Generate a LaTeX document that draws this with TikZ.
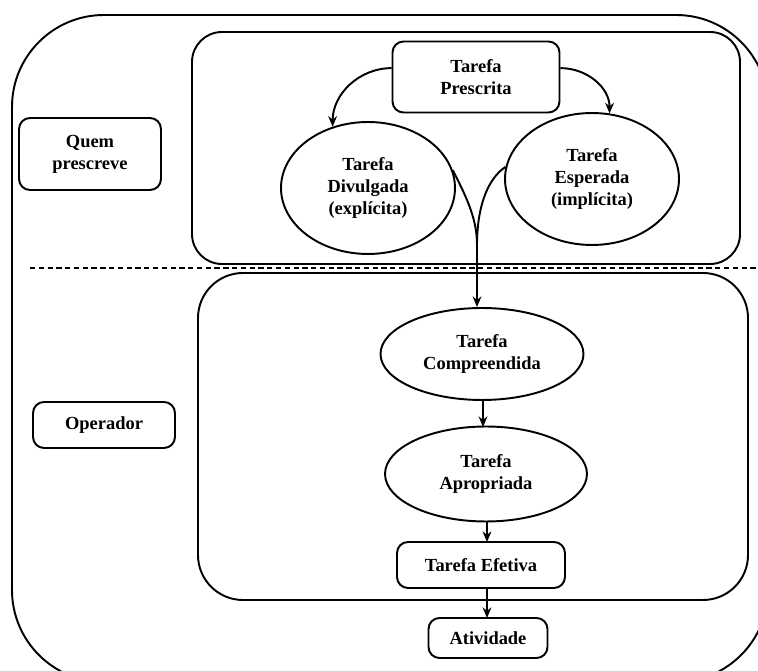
\documentclass[tikz,border=0pt]{standalone}
\usepackage{fontspec}
\setmainfont{Liberation Serif}
\usetikzlibrary{shapes.geometric,arrows.meta}
\begin{document}
\begin{tikzpicture}[x=0.02cm,y=-0.02cm,
  every node/.style={font=\fontsize{10.5}{12.5}\selectfont\bfseries, align=center, inner sep=1pt},
  frame/.style={draw, line width=1.1pt},
  roundbox/.style={frame, rectangle, rounded corners=0.22cm},
  oval/.style={frame, ellipse, inner sep=0pt},
  flow/.style={line width=1.1pt, -{Stealth[length=6pt,width=5pt]}},
  plain/.style={line width=1.1pt}]
\useasboundingbox (0,0) rectangle (758,671);
\clip (0,0) rectangle (758,671);
% outer frame
\draw[frame, rounded corners=1.84cm] (12,15) rectangle (768,682);
% inner frames
\draw[frame, rounded corners=0.6cm] (192,32) rectangle (740,264);
\draw[frame, rounded corners=0.9cm] (198,273) rectangle (748,600);
% divider
\draw[line width=0.7pt, dash pattern=on 3pt off 2pt] (30,268) -- (758,268);
% left labels
\node[roundbox, minimum width=2.84cm, minimum height=1.44cm] (quem) at (90,154) {Quem\\prescreve};
\node[roundbox, minimum width=2.84cm, minimum height=0.92cm] (oper) at (104,425) {Operador};
% top group
\node[roundbox, minimum width=3.34cm, minimum height=1.42cm] (presc) at (476,77) {Tarefa\\Prescrita};
\node[oval, minimum width=3.48cm, minimum height=2.64cm] (divul) at (368,188) {Tarefa\\Divulgada\\(explícita)};
\node[oval, minimum width=3.48cm, minimum height=2.64cm] (esper) at (592,179) {Tarefa\\Esperada\\(implícita)};
% bottom group
\node[oval, minimum width=4.06cm, minimum height=1.84cm] (compr) at (482,354) {Tarefa\\Compreendida};
\node[oval, minimum width=4.04cm, minimum height=1.9cm] (aprop) at (486,474) {Tarefa\\Apropriada};
\node[roundbox, minimum width=3.36cm, minimum height=0.92cm] (efet) at (481,565) {Tarefa Efetiva};
\node[roundbox, minimum width=2.38cm, minimum height=0.8cm] (ativ) at (488,638) {Atividade};
% connectors
\draw[flow] (presc.174) to[out=180,in=90] (divul.120);
\draw[flow] (presc.6) to[out=0,in=90] (esper.75);
\coordinate (merge) at (477,245);
\draw[plain] (divul.12) .. controls (468,200) and (477,220) .. (merge);
\draw[plain] (esper.172) .. controls (486,180) and (477,210) .. (merge);
\draw[flow] (merge) -- (merge |- compr.north);
\draw[flow] (483,400) -- (483,427);
\draw[flow] (487,521) -- (487,542);
\draw[flow] (487,588) -- (487,618);
\end{tikzpicture}
\end{document}
